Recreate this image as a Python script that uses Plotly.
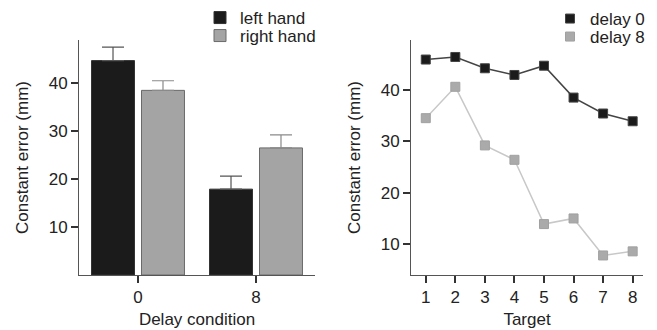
import plotly.graph_objects as go

# ---- data ----
delay_conditions = ["0", "8"]
left_hand = [44.7, 17.9]
left_hand_err = [2.8, 2.7]
right_hand = [38.5, 26.5]
right_hand_err = [2.0, 2.7]

targets = [1, 2, 3, 4, 5, 6, 7, 8]
delay0 = [45.9, 46.4, 44.2, 42.9, 44.7, 38.5, 35.4, 33.9]
delay8 = [34.5, 40.6, 29.2, 26.4, 13.9, 15.0, 7.8, 8.6]

FONT = "Liberation Sans, Arial, Helvetica, sans-serif"
TXT = "#222222"
FS = 17
W, H = 657, 330

fig = go.Figure()

# ---- left panel: bars ----
fig.add_trace(go.Bar(
    x=delay_conditions, y=left_hand, name="left hand",
    marker=dict(color="#1b1b1b", line=dict(color="#333333", width=1)),
    error_y=dict(type="data", array=left_hand_err, arrayminus=[0, 0], symmetric=False,
                 color="#555555", thickness=1.2, width=11),
    xaxis="x", yaxis="y", legend="legend",
))
fig.add_trace(go.Bar(
    x=delay_conditions, y=right_hand, name="right hand",
    marker=dict(color="#a4a4a4", line=dict(color="#6a6a6a", width=1)),
    error_y=dict(type="data", array=right_hand_err, arrayminus=[0, 0], symmetric=False,
                 color="#8a8a8a", thickness=1.2, width=11),
    xaxis="x", yaxis="y", legend="legend2",
))

# ---- right panel: lines + markers ----
fig.add_trace(go.Scatter(
    x=targets, y=delay0, mode="lines", line=dict(color="#444444", width=1.5),
    showlegend=False, xaxis="x2", yaxis="y2", hoverinfo="skip",
))
fig.add_trace(go.Scatter(
    x=targets, y=delay8, mode="lines", line=dict(color="#c8c8c8", width=1.5),
    showlegend=False, xaxis="x2", yaxis="y2", hoverinfo="skip",
))
fig.add_trace(go.Scatter(
    x=targets, y=delay0, mode="markers", name="delay 0",
    marker=dict(symbol="square", size=9, color="#1b1b1b", line=dict(color="#444444", width=1)),
    xaxis="x2", yaxis="y2", legend="legend3",
))
fig.add_trace(go.Scatter(
    x=targets, y=delay8, mode="markers", name="delay 8",
    marker=dict(symbol="square", size=9, color="#aaaaaa", line=dict(color="#a0a0a0", width=1)),
    xaxis="x2", yaxis="y2", legend="legend4",
))

axis_common = dict(
    showgrid=False, zeroline=False, showline=True, linecolor="#555555", linewidth=1,
    ticks="outside", tickcolor="#333333", tickwidth=1.5,
    tickfont=dict(family=FONT, size=FS, color=TXT),
    mirror=False, automargin=False,
)

def leg(xpx, ypx):
    return dict(x=xpx / W, y=1 - ypx / H, xanchor="left", yanchor="middle",
                font=dict(family=FONT, size=FS, color=TXT), bgcolor="rgba(0,0,0,0)",
                itemwidth=30, borderwidth=0)

fig.update_layout(
    width=W, height=H,
    margin=dict(l=0, r=0, t=0, b=0, autoexpand=False),
    paper_bgcolor="white", plot_bgcolor="white",
    font=dict(family=FONT, size=FS, color=TXT),
    barmode="group", bargap=0.153, bargroupgap=0.14,
    xaxis=dict(**axis_common, domain=[79/W, 315/W], type="category",
               range=[-0.5, 1.5], anchor="y", ticklen=7,
               title=dict(text="Delay condition", font=dict(size=FS), standoff=6)),
    yaxis=dict(**axis_common, domain=[1-275/H, 1-40/H], range=[0, 49],
               tickvals=[10, 20, 30, 40], anchor="x", ticklen=7,
               title=dict(text="Constant error (mm)", font=dict(size=FS), standoff=15)),
    xaxis2=dict(**axis_common, domain=[411/W, 643/W], range=[0.5, 8.35],
                tickvals=targets, anchor="y2", ticklen=7,
                title=dict(text="Target", font=dict(size=FS), standoff=6)),
    yaxis2=dict(**axis_common, domain=[1-275/H, 1-40/H], range=[4, 49.7],
                tickvals=[10, 20, 30, 40], anchor="x2", ticklen=7,
                title=dict(text="Constant error (mm)", font=dict(size=FS), standoff=15)),
    legend=leg(200, 18),
    legend2=leg(200, 36),
    legend3=leg(550, 19),
    legend4=leg(550, 37),
)

fig.write_html("out.html", config={"displayModeBar": False},
               post_script="document.body.style.margin='0';")
